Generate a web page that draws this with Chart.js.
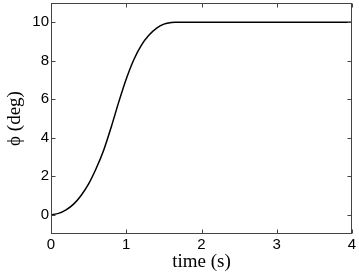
<!DOCTYPE html>
<html>
<head>
<meta charset="utf-8">
<script src="https://cdn.jsdelivr.net/npm/chart.js@4"></script>
<style>
  body { margin: 0; background: #fff; }
  canvas { display: block; }
</style>
</head>
<body>
<canvas id="myChart" width="359" height="273"></canvas>
<script>
'use strict';

// values
const timeS = [0, 0.1, 0.2, 0.3, 0.4, 0.5, 0.6, 0.7, 0.8, 0.9, 1.0, 1.1, 1.2, 1.3, 1.4, 1.5, 1.6, 1.65, 4];
const phiDeg = [0, 0.07, 0.25, 0.55, 1.0, 1.6, 2.4, 3.35, 4.55, 5.85, 7.05, 8.05, 8.8, 9.32, 9.68, 9.9, 9.99, 10, 10];
const xTicks = [0, 1, 2, 3, 4];
const yTicks = [0, 2, 4, 6, 8, 10];

let points = [];
for (let i = 0; i < timeS.length; i++) {
  points.push({ x: timeS[i], y: phiDeg[i] });
}

// matlab style box with inward ticks on all sides
const boxPlugin = {
  id: 'box',
  afterDraw(chart) {
    const ctx = chart.ctx;
    const a = chart.chartArea;
    const xs = chart.scales.x;
    const ys = chart.scales.y;
    const l = Math.round(a.left) + 0.5;
    const r = Math.round(a.right) - 0.5;
    const t = Math.round(a.top) + 0.5;
    const b = Math.round(a.bottom) - 0.5;
    ctx.save();
    ctx.strokeStyle = '#444';
    ctx.lineWidth = 1;
    ctx.strokeRect(l, t, r - l, b - t);
    ctx.beginPath();
    xTicks.forEach(v => {
      const px = Math.round(xs.getPixelForValue(v)) + 0.5;
      ctx.moveTo(px, b); ctx.lineTo(px, b - 4);
      ctx.moveTo(px, t); ctx.lineTo(px, t + 4);
    });
    yTicks.forEach(v => {
      const py = Math.round(ys.getPixelForValue(v)) + 0.5;
      ctx.moveTo(l, py); ctx.lineTo(l + 4, py);
      ctx.moveTo(r, py); ctx.lineTo(r - 4, py);
    });
    ctx.stroke();
    ctx.restore();
  }
};

let ctx = document.getElementById('myChart').getContext('2d');
let myChart = new Chart(ctx, {
  type: 'line',
  data: {
    datasets: [{
      data: points,
      borderColor: '#000',
      borderWidth: 1.5,
      pointRadius: 0,
      fill: false,
      cubicInterpolationMode: 'monotone'
    }]
  },
  options: {
    responsive: false,
    animation: false,
    layout: { padding: { top: 3, right: 7, left: 0, bottom: 0 } },
    plugins: { legend: { display: false }, tooltip: { enabled: false } },
    scales: {
      x: {
        type: 'linear',
        min: 0,
        max: 4,
        afterBuildTicks: s => { s.ticks = xTicks.map(v => ({ value: v })); },
        afterFit: s => { s.height = 39; s.paddingLeft = 0; s.paddingRight = 0; },
        grid: { display: false, drawTicks: false },
        border: { display: false },
        ticks: { color: '#000', padding: 2, font: { family: 'Liberation Sans', size: 15 } },
        title: {
          display: true,
          text: 'time (s)',
          color: '#000',
          padding: 0,
          font: { family: 'Liberation Serif', size: 19 }
        }
      },
      y: {
        type: 'linear',
        min: -1,
        max: 11,
        afterBuildTicks: s => { s.ticks = yTicks.map(v => ({ value: v })); },
        afterFit: s => { s.width = 51; s.paddingTop = 0; s.paddingBottom = 0; },
        grid: { display: false, drawTicks: false },
        border: { display: false },
        ticks: { color: '#000', padding: 2, font: { family: 'Liberation Sans', size: 15 } },
        title: {
          display: true,
          text: 'ϕ (deg)',
          color: '#000',
          padding: { top: 4, bottom: 0 },
          font: { family: 'Liberation Serif', size: 19 }
        }
      }
    }
  },
  plugins: [boxPlugin]
});
</script>
</body>
</html>
